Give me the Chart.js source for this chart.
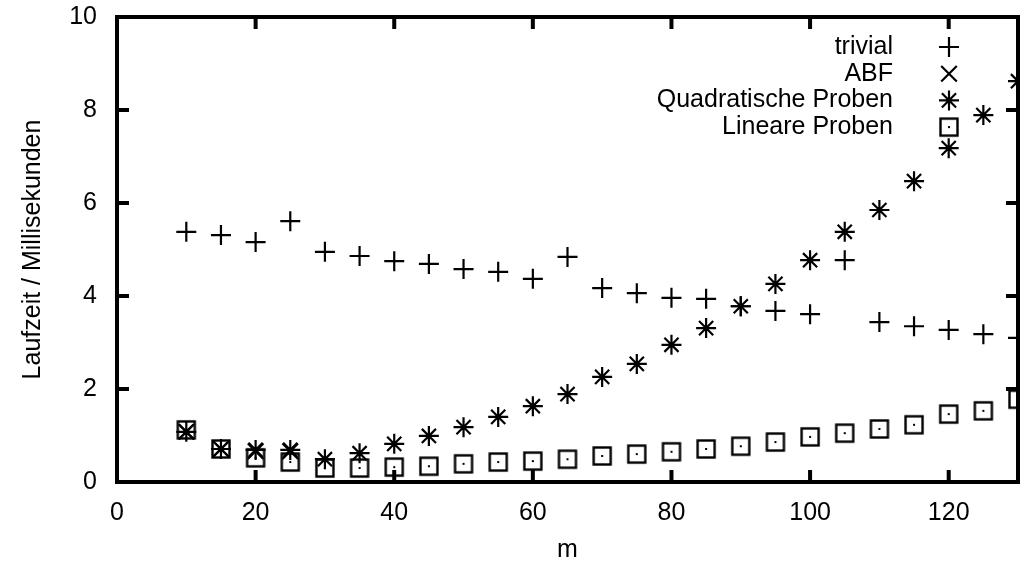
<!DOCTYPE html>
<html>
<head>
<meta charset="utf-8">
<script src="https://cdn.jsdelivr.net/npm/chart.js@4.4.1/dist/chart.umd.min.js"></script>
<style>
    html, body { margin: 0; padding: 0; background: #fff; }
    #wrap { width: 1022px; height: 561px; }
</style>
</head>
<body>
<div id="wrap"><canvas id="chart" width="1022" height="561"></canvas></div>
<script>
const mValues = [10, 15, 20, 25, 30, 35, 40, 45, 50, 55, 60, 65, 70, 75, 80, 85, 90, 95, 100, 105, 110, 115, 120, 125, 130];
const trivialTimes = [5.38, 5.31, 5.16, 5.61, 4.95, 4.86, 4.75, 4.69, 4.58, 4.52, 4.37, 4.84, 4.17, 4.06, 3.96, 3.94, 3.78, 3.68, 3.61, 4.77, 3.44, 3.35, 3.27, 3.18, 3.10];
const quadraticTimes = [1.08, 0.71, 0.69, 0.69, 0.49, 0.62, 0.82, 0.99, 1.18, 1.40, 1.63, 1.89, 2.26, 2.54, 2.95, 3.31, 3.78, 4.26, 4.77, 5.38, 5.85, 6.47, 7.18, 7.89, 8.62];
const linearTimes = [1.12, 0.71, 0.52, 0.43, 0.30, 0.30, 0.32, 0.34, 0.39, 0.43, 0.45, 0.49, 0.56, 0.60, 0.65, 0.71, 0.77, 0.86, 0.97, 1.05, 1.14, 1.23, 1.46, 1.53, 1.78];
const abfM = [10, 15, 20, 25];
const abfTimes = [1.08, 0.71, 0.66, 0.66];
const xTicks = [0, 20, 40, 60, 80, 100, 120];
const yTicks = [0, 2, 4, 6, 8, 10];

const FONT = 'Liberation Sans, Arial, Helvetica, sans-serif';

// square with a dot in the middle, gnuplot style
const dotSquare = document.createElement('canvas');
dotSquare.width = 22;
dotSquare.height = 22;
(function () {
    const g = dotSquare.getContext('2d');
    g.strokeStyle = '#000';
    g.lineWidth = 2.4;
    g.strokeRect(2.5, 2.5, 17, 17);
    g.fillStyle = '#000';
    g.fillRect(10, 10, 2, 2);
})();

const toPoints = (xs, ys) => xs.map((x, i) => ({ x: x, y: ys[i] }));

const series = [
    { label: 'trivial', data: toPoints(mValues, trivialTimes), pointStyle: 'cross', pointRadius: 10 },
    { label: 'ABF', data: toPoints(abfM, abfTimes), pointStyle: 'crossRot', pointRadius: 11 },
    { label: 'Quadratische Proben', data: toPoints(mValues, quadraticTimes), pointStyle: 'star', pointRadius: 10 },
    { label: 'Lineare Proben', data: toPoints(mValues, linearTimes), pointStyle: dotSquare, pointRadius: 11 }
];

const framePlugin = {
    id: 'frame',
    afterDraw(chart) {
        const { ctx, chartArea: a, scales } = chart;
        ctx.save();
        ctx.strokeStyle = '#000';
        ctx.lineWidth = 4;
        ctx.lineCap = 'butt';
        const len = 12;
        ctx.beginPath();
        xTicks.forEach(v => {
            const px = scales.x.getPixelForValue(v);
            if (px <= a.left + 2 || px >= a.right - 2) return;
            ctx.moveTo(px, a.bottom); ctx.lineTo(px, a.bottom - len);
            ctx.moveTo(px, a.top); ctx.lineTo(px, a.top + len);
        });
        yTicks.forEach(v => {
            const py = scales.y.getPixelForValue(v);
            if (py <= a.top + 2 || py >= a.bottom - 2) return;
            ctx.moveTo(a.left, py); ctx.lineTo(a.left + len, py);
            ctx.moveTo(a.right, py); ctx.lineTo(a.right - len, py);
        });
        ctx.stroke();
        ctx.strokeRect(a.left, a.top, a.right - a.left, a.bottom - a.top);

        // legend, top right inside the plot
        ctx.font = '25px ' + FONT;
        ctx.fillStyle = '#000';
        ctx.textAlign = 'right';
        ctx.textBaseline = 'middle';
        const textX = 893, symX = 949;
        chart.data.datasets.forEach((ds, i) => {
            const y = 47 + i * 26.7;
            ctx.fillText(ds.label, textX, y);
            ctx.lineWidth = 2.2;
            Chart.helpers.drawPoint(ctx, {
                pointStyle: ds.pointStyle,
                radius: ds.pointRadius,
                borderWidth: 2.2,
                rotation: 0
            }, symX, y);
        });
        ctx.restore();
    }
};

new Chart(document.getElementById('chart'), {
    type: 'scatter',
    data: {
        datasets: series.map(s => ({
            label: s.label,
            data: s.data,
            pointStyle: s.pointStyle,
            pointRadius: s.pointRadius,
            pointHoverRadius: s.pointRadius,
            borderColor: '#000',
            backgroundColor: 'rgba(0,0,0,0)',
            borderWidth: 2.2,
            clip: 0
        }))
    },
    options: {
        responsive: false,
        animation: false,
        layout: { autoPadding: false, padding: { left: 0, top: 17, right: 4, bottom: 0 } },
        plugins: {
            legend: { display: false },
            tooltip: { enabled: false }
        },
        scales: {
            x: {
                type: 'linear',
                min: 0,
                max: 130,
                afterBuildTicks: s => { s.ticks = xTicks.map(v => ({ value: v })); },
                grid: { display: false },
                border: { display: false },
                ticks: { color: '#000', padding: 8, maxRotation: 0, font: { family: FONT, size: 25 } },
                title: {
                    display: true, text: 'm', color: '#000',
                    padding: { top: 0, bottom: 0 },
                    font: { family: FONT, size: 25, lineHeight: 0.9 }
                },
                afterFit: s => { s.height = 79; s.paddingLeft = 0; s.paddingRight = 0; }
            },
            y: {
                min: 0,
                max: 10,
                afterBuildTicks: s => { s.ticks = yTicks.map(v => ({ value: v })); },
                grid: { display: false },
                border: { display: false },
                ticks: { color: '#000', padding: 12, font: { family: FONT, size: 25 } },
                title: {
                    display: true, text: 'Laufzeit / Millisekunden', color: '#000',
                    padding: { top: 18, bottom: 0 },
                    font: { family: FONT, size: 25, lineHeight: 1.2 }
                },
                afterFit: s => { s.width = 117; s.paddingTop = 0; s.paddingBottom = 0; }
            }
        }
    },
    plugins: [framePlugin]
});
</script>
</body>
</html>
